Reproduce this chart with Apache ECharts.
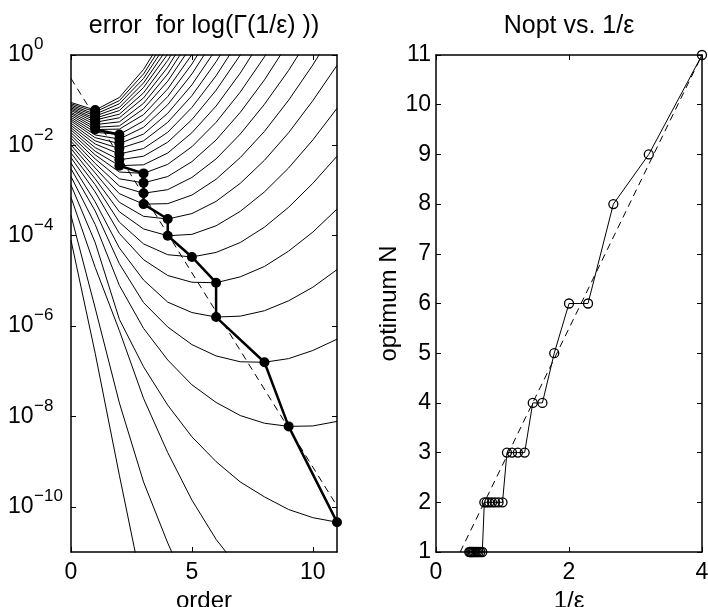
<!DOCTYPE html>
<html><head><meta charset="utf-8">
<script src="https://cdn.jsdelivr.net/npm/echarts@6/dist/echarts.min.js"></script>
<style>html,body{margin:0;padding:0;background:#fff}#c{width:708px;height:607px}</style>
</head><body><div id="c"></div>
<script>
// order axis (number of terms)
const orders = [0,1,2,3,4,5,6,7,8,9,10,11];
// log10(error) for eps = k/16, k = 1..32
const errK1  = [-4.10,-6.60,-9.30,-11.90,-13.90,-15.70,-17.30,-18.80,-20.20,-21.50,-22.88,-24.18];
const errK2  = [-3.55,-5.60,-7.70,-9.45,-10.80,-12.00,-13.00,-13.95,-14.91,-15.78,-16.56,-17.26];
const errK3  = [-3.15,-4.70,-6.10,-7.60,-8.80,-9.85,-10.72,-11.40,-11.95,-12.44,-12.86,-13.21];
const errK4  = [-2.88,-4.15,-5.85,-6.90,-7.75,-8.45,-9.00,-9.45,-9.78,-10.06,-10.24,-10.34];
const errK5  = [-2.69,-3.75,-5.10,-6.05,-6.75,-7.30,-7.69,-7.98,-8.15,-8.22,-8.21,-8.11];
const errK6  = [-2.52,-3.45,-4.62,-5.48,-6.02,-6.41,-6.66,-6.79,-6.80,-6.72,-6.54,-6.29];
const errK7  = [-2.39,-3.25,-4.27,-4.98,-5.47,-5.70,-5.80,-5.78,-5.66,-5.44,-5.14,-4.75];
const errK8  = [-2.27,-3.03,-3.95,-4.53,-4.88,-5.03,-5.04,-4.91,-4.68,-4.34,-3.92,-3.41];
const errK9  = [-2.17,-2.87,-3.70,-4.18,-4.42,-4.47,-4.37,-4.15,-3.81,-3.37,-2.84,-2.24];
const errK10 = [-2.07,-2.74,-3.47,-3.85,-4.00,-3.97,-3.78,-3.46,-3.03,-2.50,-1.88,-1.18];
const errK11 = [-1.99,-2.61,-3.26,-3.57,-3.63,-3.51,-3.24,-2.84,-2.33,-1.72,-1.01,-0.23];
const errK12 = [-1.91,-2.50,-3.07,-3.30,-3.29,-3.10,-2.75,-2.27,-1.69,-1.00,-0.22,0.64];
const errK13 = [-1.84,-2.40,-2.90,-3.06,-2.98,-2.71,-2.30,-1.75,-1.09,-0.34,0.51,1.44];
const errK14 = [-1.78,-2.30,-2.74,-2.83,-2.69,-2.36,-1.88,-1.27,-0.55,0.28,1.19,2.18];
const errK15 = [-1.72,-2.21,-2.59,-2.62,-2.42,-2.03,-1.49,-0.82,-0.04,0.84,1.81,2.87];
const errK16 = [-1.66,-2.13,-2.45,-2.43,-2.17,-1.72,-1.13,-0.40,0.44,1.38,2.40,3.51];
const errK17 = [-1.61,-2.05,-2.32,-2.24,-1.93,-1.43,-0.78,0.00,0.89,1.88,2.96,4.12];
const errK18 = [-1.56,-1.97,-2.19,-2.07,-1.71,-1.16,-0.46,0.37,1.31,2.35,3.48,4.69];
const errK19 = [-1.51,-1.90,-2.07,-1.90,-1.49,-0.90,-0.15,0.72,1.71,2.80,3.97,5.23];
const errK20 = [-1.46,-1.83,-1.96,-1.75,-1.29,-0.66,0.13,1.05,2.09,3.22,4.44,5.74];
const errK21 = [-1.42,-1.77,-1.86,-1.60,-1.10,-0.42,0.41,1.37,2.45,3.62,4.88,6.23];
const errK22 = [-1.38,-1.71,-1.76,-1.46,-0.92,-0.20,0.67,1.68,2.79,4.00,5.31,6.69];
const errK23 = [-1.34,-1.65,-1.64,-1.32,-0.75,0.01,0.92,1.97,3.12,4.37,5.71,7.14];
const errK24 = [-1.30,-1.60,-1.57,-1.19,-0.58,0.22,1.16,2.24,3.43,4.72,6.10,7.56];
const errK25 = [-1.27,-1.54,-1.48,-1.07,-0.42,0.41,1.39,2.51,3.73,5.06,6.47,7.97];
const errK26 = [-1.23,-1.49,-1.39,-0.95,-0.27,0.60,1.62,2.76,4.02,5.38,6.83,8.36];
const errK27 = [-1.20,-1.44,-1.31,-0.84,-0.12,0.78,1.83,3.01,4.30,5.69,7.18,8.74];
const errK28 = [-1.17,-1.40,-1.23,-0.72,0.02,0.95,2.03,3.25,4.57,6.00,7.51,9.10];
const errK29 = [-1.14,-1.35,-1.16,-0.62,0.16,1.12,2.23,3.47,4.83,6.28,7.83,9.45];
const errK30 = [-1.11,-1.31,-1.08,-0.52,0.29,1.28,2.42,3.70,5.08,6.56,8.14,9.79];
const errK31 = [-1.08,-1.26,-1.01,-0.42,0.42,1.44,2.61,3.91,5.32,6.83,8.44,10.12];
const errK32 = [-1.05,-1.22,-0.94,-0.32,0.54,1.59,2.79,4.12,5.56,7.10,8.72,10.44];
const curveList = [errK1,errK2,errK3,errK4,errK5,errK6,errK7,errK8,errK9,errK10,errK11,errK12,errK13,errK14,errK15,errK16,
  errK17,errK18,errK19,errK20,errK21,errK22,errK23,errK24,errK25,errK26,errK27,errK28,errK29,errK30,errK31,errK32];

// right panel: 1/eps (k = 4..32) and optimum N
const invEps = [4,3.2,2.667,2.286,2,1.778,1.6,1.455,1.333,1.231,1.143,1.067,1,0.941,0.889,0.842,0.8,0.762,0.727,0.696,0.667,0.64,0.615,0.593,0.571,0.552,0.533,0.516,0.5];
const nOpt   = [11,9,8,6,6,5,4,4,3,3,3,3,2,2,2,2,2,2,2,1,1,1,1,1,1,1,1,1,1];
const firstOptK = 4;

// dashed guide lines
const dashLeftOrder = [0, 11];
const dashLeftErr   = [-0.52, -9.98];
const dashRightX = [0.3636, 4];
const dashRightN = [1, 11];

// ticks
const leftXTicks = [0,5,10];
const leftYTicks = [-10,-8,-6,-4,-2,0];
const rightXTicks = [0,2,4];
const rightYTicks = [1,2,3,4,5,6,7,8,9,10,11];

const F = '"Liberation Sans", Arial, Helvetica, sans-serif';
const chart = echarts.init(document.getElementById('c'), null, {renderer:'canvas'});

function ax(gridIndex, pos, min, max, ticks, label, extra) {
  const o = {
    type:'value', gridIndex, position:pos, min, max,
    axisLine:{show:true, onZero:false, lineStyle:{color:'#000', width:1.5}},
    axisTick:{show:true, inside:true, length:5, customValues:ticks, lineStyle:{color:'#000', width:1}},
    axisLabel:{show:!!label, customValues:ticks, color:'#000', fontSize:23, fontFamily:F},
    splitLine:{show:false}
  };
  if (label) Object.assign(o.axisLabel, label);
  if (extra) Object.assign(o, extra);
  return o;
}

const series = [];
curveList.forEach((arr) => {
  series.push({type:'line', xAxisIndex:0, yAxisIndex:0, data: orders.map((n,i)=>[n, arr[i]]),
    symbol:'none', lineStyle:{color:'#000', width:1}, silent:true, clip:true, z:2});
});
series.push({type:'line', xAxisIndex:0, yAxisIndex:0, data: dashLeftOrder.map((x,i)=>[x, dashLeftErr[i]]),
  symbol:'none', lineStyle:{color:'#000', width:1, type:[7,5]}, z:3});
series.push({type:'line', xAxisIndex:0, yAxisIndex:0,
  data: nOpt.map((n,j)=>[n, curveList[j+firstOptK-1][n]]),
  symbol:'circle', symbolSize:10, itemStyle:{color:'#000'}, lineStyle:{color:'#000', width:2.5}, z:4});
series.push({type:'line', xAxisIndex:2, yAxisIndex:4, data: invEps.map((x,i)=>[x, nOpt[i]]),
  symbol:'circle', symbolSize:9, itemStyle:{color:'rgba(0,0,0,0)', borderColor:'#000', borderWidth:1.3},
  lineStyle:{color:'#000', width:1}, z:4});
series.push({type:'line', xAxisIndex:2, yAxisIndex:4, data: dashRightX.map((x,i)=>[x, dashRightN[i]]),
  symbol:'none', lineStyle:{color:'#000', width:1, type:[7,5]}, z:3});

const expLabel = (v) => (v === 0 ? '0' : '\u2212' + Math.abs(v));

const option = {
  animation:false,
  backgroundColor:'#fff',
  grid:[{left:71, top:55, width:266, height:497, outerBoundsMode:'none', containLabel:false},
        {left:436, top:55, width:266, height:497, outerBoundsMode:'none', containLabel:false}],
  xAxis:[
    ax(0,'bottom',0,11,leftXTicks,{margin:9},{name:'order', nameLocation:'middle', nameGap:34,
      nameTextStyle:{color:'#000', fontSize:24, fontFamily:F}}),
    ax(0,'top',0,11,leftXTicks,null),
    ax(1,'bottom',0,4,rightXTicks,{margin:9},{name:'1/\u03b5', nameLocation:'middle', nameGap:34,
      nameTextStyle:{color:'#000', fontSize:24, fontFamily:F}}),
    ax(1,'top',0,4,rightXTicks,null)
  ],
  yAxis:[
    // base "10"
    ax(0,'left',-11,0,leftYTicks,{margin:63, align:'left', formatter:() => '10'}),
    ax(0,'right',-11,0,leftYTicks,null),
    // exponents
    ax(0,'left',-11,0,leftYTicks,{margin:37, align:'left', fontSize:17, verticalAlign:'bottom', lineHeight:21,
      formatter: expLabel}, {axisLine:{show:false}, axisTick:{show:false}}),
    ax(1,'right',1,11,rightYTicks,null),
    ax(1,'left',1,11,rightYTicks,{margin:5},{name:'optimum N', nameLocation:'middle', nameGap:32, nameRotate:90,
      nameTextStyle:{color:'#000', fontSize:24, fontFamily:F}})
  ],
  graphic:[
    {type:'text', x:204, y:26, style:{text:'error  for log(\u0393(1/\u03b5) ))', fill:'#000', font:'25px ' + F, textAlign:'center', textVerticalAlign:'middle'}},
    {type:'text', x:569, y:26, style:{text:'Nopt vs. 1/\u03b5', fill:'#000', font:'25px ' + F, textAlign:'center', textVerticalAlign:'middle'}}
  ],
  series
};
chart.setOption(option);
</script></body></html>
